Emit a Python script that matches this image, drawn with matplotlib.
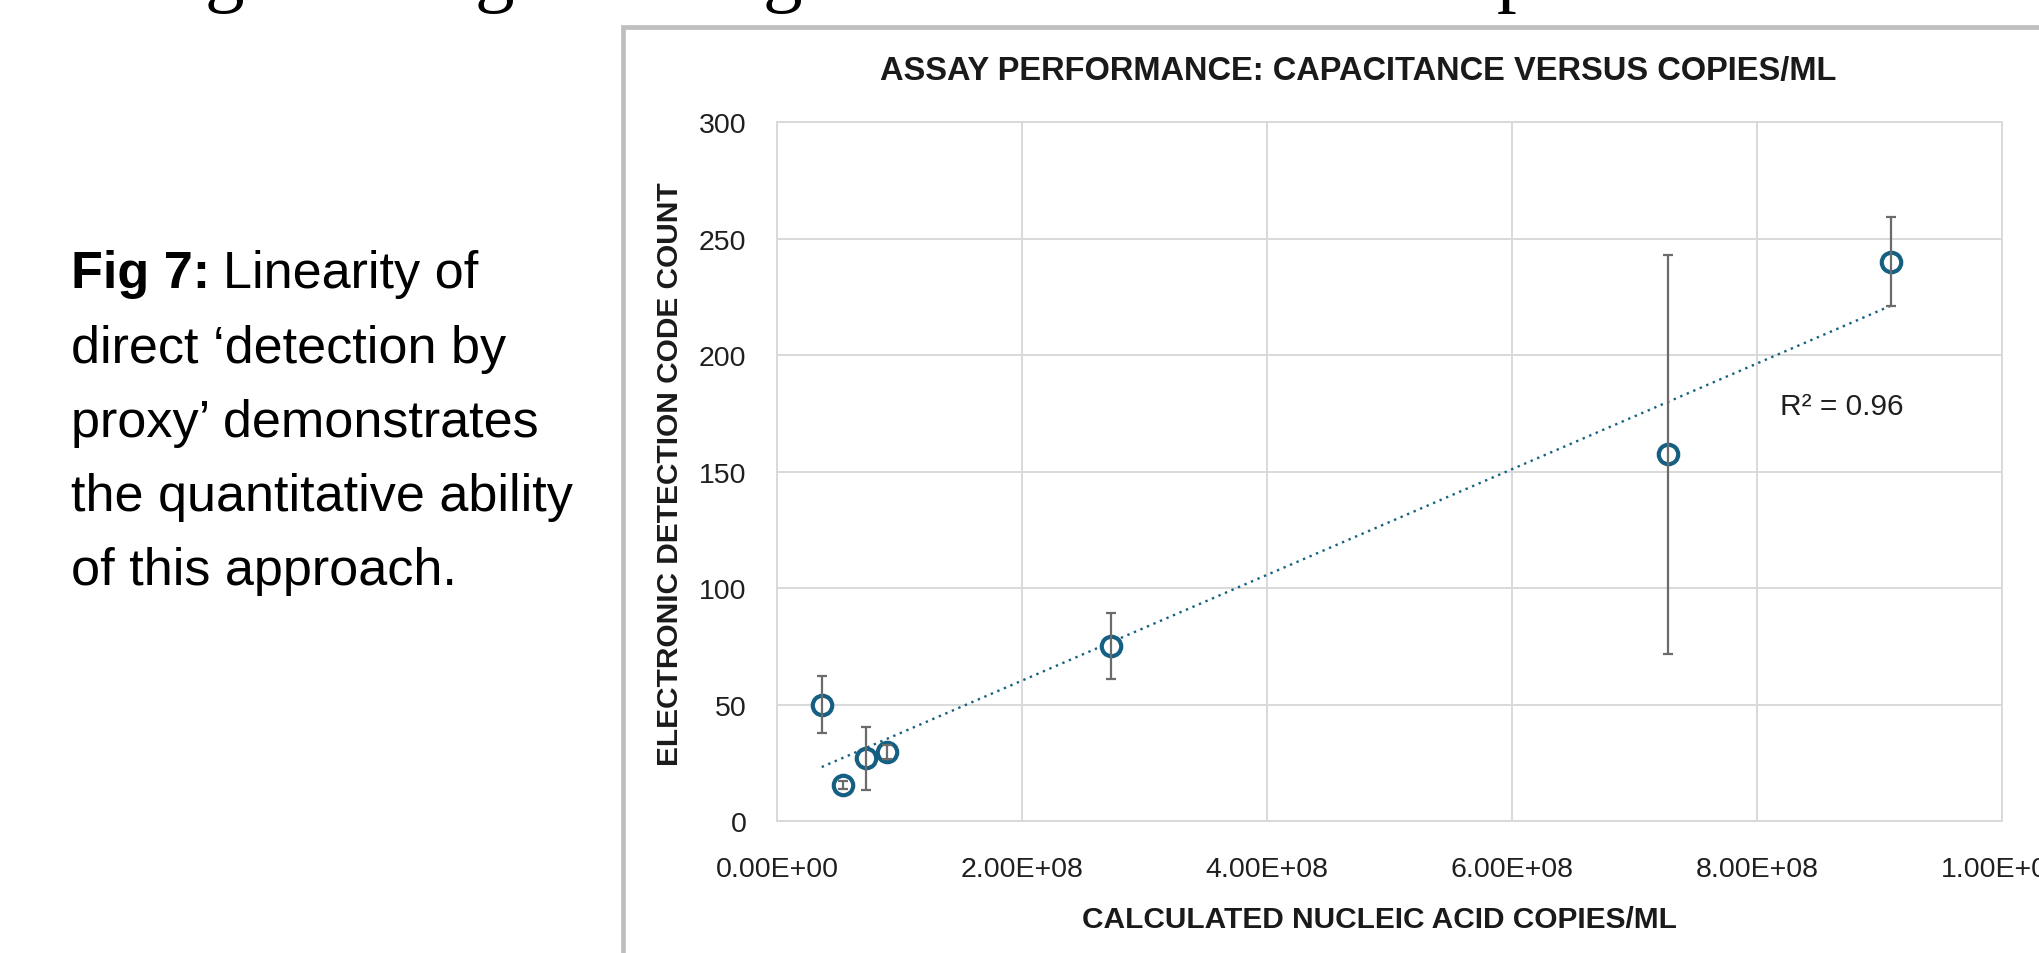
import numpy as np
import matplotlib
matplotlib.use("Agg")
import matplotlib.pyplot as plt
from matplotlib import font_manager
from matplotlib.ticker import FuncFormatter
from matplotlib.patches import Rectangle

# ---------------- data ----------------
copies = [3.65e7, 5.41e7, 7.24e7, 9.0e7, 2.727e8, 7.27e8, 9.09e8]
counts = [49.9, 15.5, 26.9, 29.7, 75.2, 157.4, 240.0]
errors = [12.2, 1.8, 13.6, 3.0, 14.2, 85.6, 19.1]

x_ticks = [0, 2e8, 4e8, 6e8, 8e8, 1e9]
y_ticks = [0, 50, 100, 150, 200, 250, 300]

title = "ASSAY PERFORMANCE: CAPACITANCE VERSUS COPIES/ML"
x_label = "CALCULATED NUCLEIC ACID COPIES/ML"
y_label = "ELECTRONIC DETECTION CODE COUNT"
r2_text = "R² = 0.96"
caption_bold = "Fig 7:"
caption_first = "Linearity of"
caption_rest = ["direct ‘detection by", "proxy’ demonstrates",
                "the quantitative ability", "of this approach."]
top_fragments = ["g", "g", "g", "p"]

# ---------------- style ----------------
plt.rcParams['font.family'] = ['Liberation Sans', 'DejaVu Sans']
BLUE = '#156082'
GRID = '#D9D9D9'
ERR = '#6B6B6B'

names = {f.name for f in font_manager.fontManager.ttflist}
HAS_NARROW = 'Liberation Sans Narrow' in names
if HAS_NARROW:
    NARROW = ['Liberation Sans Narrow', 'Liberation Sans', 'DejaVu Sans']
    cap_size = 45.5
    ylab_size, xlab_size = 25.5, 25.0
    lab_family = NARROW
else:
    NARROW = ['Liberation Sans', 'DejaVu Sans']
    cap_size = 37.5
    ylab_size, xlab_size = 21.5, 21.5
    lab_family = NARROW

W, H = 2040, 954
fig = plt.figure(figsize=(W / 100, H / 100), dpi=100)
fig.patch.set_facecolor('white')

def fx(px):
    return px / W

def fy(py):
    return 1 - py / H

# chart panel border (extends beyond the right/bottom edges)
rect = Rectangle((fx(623), -1), 2, fy(27.5) + 1, transform=fig.transFigure,
                 fill=False, ec='#BFBFBF', lw=3.4)
fig.add_artist(rect)

ax = fig.add_axes([fx(777), fy(822), 1225 / W, 699 / H])
ax.set_xlim(0, 1e9)
ax.set_ylim(0, 300)
ax.set_xticks(x_ticks)
ax.set_yticks(y_ticks)
ax.xaxis.set_major_formatter(FuncFormatter(lambda v, p: f"{v:.2E}"))
ax.tick_params(axis='both', length=0, labelsize=20.5, labelcolor='#1f1f1f')
ax.tick_params(axis='x', pad=25)
ax.tick_params(axis='y', pad=22)
ax.grid(True, color=GRID, lw=1.4)
ax.set_axisbelow(True)
for s in ax.spines.values():
    s.set_color(GRID)
    s.set_linewidth(1.4)

# trendline (linear fit of data)
coef = np.polyfit(copies, counts, 1)
xs = np.array([min(copies), max(copies)])
ax.plot(xs, np.polyval(coef, xs), color=BLUE, lw=1.7, ls=(0, (1, 2)), zorder=2)

ax.plot(copies, counts, 'o', ms=14, mfc='white', mec=BLUE, mew=3.0, zorder=3)
ax.errorbar(copies, counts, yerr=errors, fmt='none', ecolor=ERR,
            elinewidth=1.6, capsize=3.4, capthick=1.6, zorder=4)

ax.text((1780 - 777) / 1225, (822 - 415) / 699, r2_text, transform=ax.transAxes,
        fontsize=21.5, va='baseline', ha='left', color='#1f1f1f')

ax.set_xlabel(x_label, fontsize=xlab_size, fontweight='bold', color='#1a1a1a',
              family=lab_family)
ax.xaxis.label.set_va('baseline')
ax.xaxis.set_label_coords(0.492, (822 - 928) / 699)
ax.set_ylabel(y_label, fontsize=ylab_size, fontweight='bold', color='#1a1a1a',
              family=lab_family)
ax.yaxis.label.set_va('center')
ax.yaxis.set_label_coords((670 - 777) / 1225, 0.497)

fig.text(fx(1358), fy(80), title, ha='center', va='baseline', fontsize=23.5,
         fontweight='bold', color='#1a1a1a')

# caption on the left
baselines = [288, 363, 437, 511, 585]
t_bold = fig.text(fx(71), fy(baselines[0]), caption_bold, fontsize=cap_size,
                  fontweight='bold', va='baseline', ha='left', color='black',
                  family=NARROW)
renderer = fig.canvas.get_renderer()
bb = t_bold.get_window_extent(renderer=renderer)
space_px = 0.24 * cap_size * 100 / 72
fig.text(fx(bb.x1 + space_px), fy(baselines[0]), caption_first, fontsize=cap_size,
         va='baseline', ha='left', color='black', family=NARROW)
for line, b in zip(caption_rest, baselines[1:]):
    fig.text(fx(71), fy(b), line, fontsize=cap_size, va='baseline', ha='left',
             color='black', family=NARROW)

# fragments of the text line cut off at the top of the image
frag_x = [205, 475, 763, 1497]
for ch, px in zip(top_fragments, frag_x):
    fig.text(fx(px), fy(-3), ch, fontsize=57, family='Liberation Serif',
             va='baseline', ha='left', color='black')

fig.savefig('out.png', dpi=100, facecolor='white')
